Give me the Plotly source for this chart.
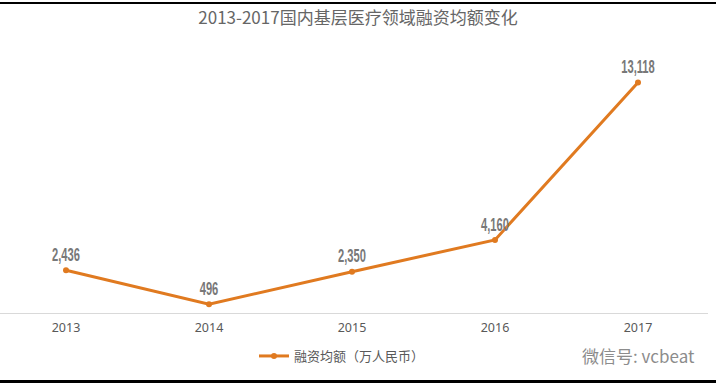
import plotly.graph_objects as go

years = ["2013", "2014", "2015", "2016", "2017"]
amounts = [2436, 496, 2350, 4160, 13118]
labels = ["2,436", "496", "2,350", "4,160", "13,118"]
series_name = "融资均额（万人民币）"
title = "2013-2017国内基层医疗领域融资均额变化"

W, H = 716, 385
ml, mr, mt, mb = 0, 8, 67, 72
ph = H - mt - mb

fig = go.Figure()
fig.add_trace(go.Scatter(
    x=list(range(len(years))), y=amounts, mode="lines+markers+text",
    name=series_name, text=labels, textposition="top center",
    textfont=dict(family="Liberation Sans, Arial, sans-serif", size=18, color="#787878", weight="bold"),
    line=dict(color="#E07A20", width=3),
    marker=dict(color="#E07A20", size=6),
    cliponaxis=False,
))

def py(pix):
    return 1 - (pix - mt) / ph

fig.update_layout(
    width=W, height=H,
    margin=dict(l=ml, r=mr, t=mt, b=mb),
    paper_bgcolor="white", plot_bgcolor="white",
    title=dict(text=title, x=0.5, xanchor="center", y=1 - 18 / H, yanchor="middle",
               font=dict(family="Noto Sans CJK SC", size=17, color="#666666")),
    xaxis=dict(range=[-66 / 143, 4 + 70 / 143], tickmode="array",
               tickvals=list(range(len(years))), ticktext=years,
               showgrid=False, zeroline=False, showline=True, linecolor="#d9d9d9", linewidth=1,
               ticks="outside", ticklen=3, tickcolor="rgba(0,0,0,0)",
               tickfont=dict(family="Noto Sans, sans-serif", size=12.5, color="#595959")),
    yaxis=dict(range=[0, 14000], visible=False, showgrid=False, zeroline=False),
    showlegend=True,
    legend=dict(orientation="h", x=254 / (W - ml - mr), xanchor="left", y=py(356), yanchor="middle",
                itemwidth=30,
                font=dict(family="Noto Sans CJK SC", size=13, color="#595959"),
                bgcolor="rgba(0,0,0,0)"),
    shapes=[
        dict(type="line", xref="paper", yref="paper", x0=0, x1=1.02, y0=py(3), y1=py(3),
             line=dict(color="black", width=2), layer="above"),
        dict(type="line", xref="paper", yref="paper", x0=0, x1=1.02, y0=py(381.5), y1=py(381.5),
             line=dict(color="black", width=3), layer="above"),
    ],
    annotations=[
        dict(text="微信号: vcbeat", xref="paper", yref="paper", x=(638 - ml) / (W - ml - mr),
             y=py(355), xanchor="center", yanchor="middle", showarrow=False,
             font=dict(family="Noto Sans CJK SC", size=17, color="#8c8c8c")),
    ],
)

post = """
document.body.style.margin='0px';
document.body.style.overflow='hidden';
var gd = document.getElementsByClassName('plotly-graph-div')[0];
function narrow(){
  var ts = gd.querySelectorAll('.scatterlayer .textpoint text');
  ts.forEach(function(t){
    var w = t.getComputedTextLength();
    t.setAttribute('textLength', (w*0.62).toFixed(1));
    t.setAttribute('lengthAdjust', 'spacingAndGlyphs');
  });
}
narrow();
gd.on('plotly_afterplot', narrow);
"""

fig.write_html("out.html", config={"displayModeBar": False}, post_script=post)
